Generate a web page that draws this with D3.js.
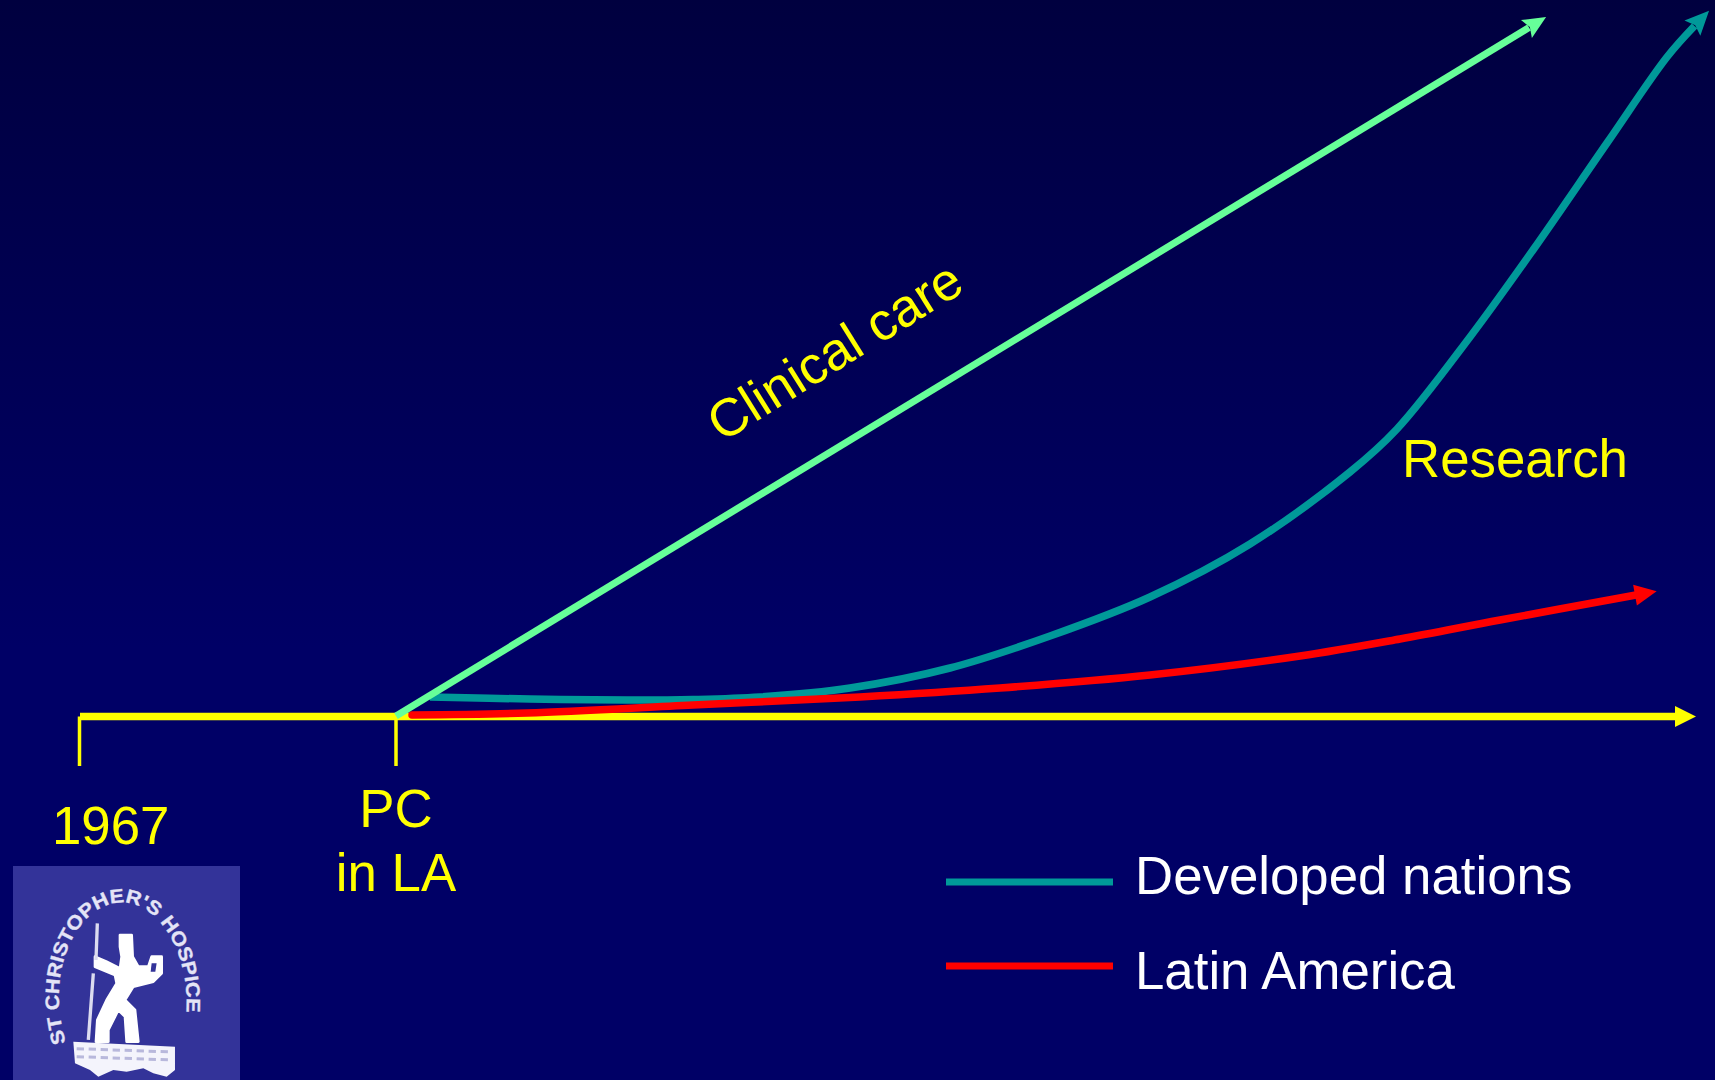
<!DOCTYPE html>
<html><head><meta charset="utf-8">
<script src="https://cdn.jsdelivr.net/npm/d3@7/dist/d3.min.js"></script>
<style>html,body{margin:0;padding:0;background:#000066;overflow:hidden}svg{display:block}text{font-family:"Liberation Sans",Arial,sans-serif}</style>
</head><body><div id="chart"></div>
<script>
// Values are in chart units: horizontal progress along the axis, and level above the axis.
const clinicalX = [39.6, 152.9];
const clinicalY = [0.05, 68.9];
const developedX = [43, 53, 62.7, 69.3, 76, 85, 95, 105, 115, 125, 135, 139.7, 147, 153.3, 160.7, 166.7, 169.45];
const developedY = [1.95, 1.75, 1.65, 1.7, 1.95, 2.85, 4.85, 8.05, 11.95, 17.25, 24.45, 28.75, 37.95, 46.65, 57.35, 65.95, 69.05];
const latinX = [41.2, 52.7, 69.3, 86, 100, 115, 130, 140, 150, 163.6];
const latinY = [0.15, 0.35, 1.15, 1.95, 2.85, 4.15, 6.05, 7.75, 9.65, 12.15];
const axisX = [8, 167.5];
const tickX = [7.95, 39.6];
const legendLabels = ["Developed nations", "Latin America"];
const logoText = "ST CHRISTOPHER'S HOSPICE";

const W = 1715, H = 1080;
const x = d3.scaleLinear().domain([0, 171.5]).range([0, W]);
const y = d3.scaleLinear().domain([0, 10]).range([716.5, 616.5]);
const zip = (a, b) => a.map((v, i) => [v, b[i]]);
const line = d3.line().x(d => x(d[0])).y(d => y(d[1]));

const svg = d3.select("#chart").append("svg").attr("width", W).attr("height", H);
const defs = svg.append("defs");
const grad = defs.append("linearGradient").attr("id", "bg").attr("x1", 0).attr("y1", 0).attr("x2", 0).attr("y2", 1);
grad.append("stop").attr("offset", "0%").attr("stop-color", "#00003f");
grad.append("stop").attr("offset", "60%").attr("stop-color", "#000066");
grad.append("stop").attr("offset", "100%").attr("stop-color", "#000066");
svg.append("rect").attr("width", W).attr("height", H).attr("fill", "url(#bg)");

function marker(id, color, d) {
  defs.append("marker").attr("id", id).attr("markerUnits", "userSpaceOnUse")
    .attr("viewBox", "-12 -14 40 28").attr("markerWidth", 40).attr("markerHeight", 28)
    .attr("refX", 0).attr("refY", 0).attr("orient", "auto")
    .append("path").attr("d", d).attr("fill", color);
}
marker("mGreen", "#66ff99", "M-3,-10.5 L20,0 L-3,10.5 L1,0 Z");
marker("mTeal", "#009999", "M-3,-11 L21,0 L-3,11 L1,0 Z");
marker("mRed", "#ff0000", "M-1,-10.5 L21,0 L-1,10.5 Z");
marker("mYellow", "#ffff00", "M0,-10.5 L21,0 L0,10.5 Z");

// ticks
svg.selectAll(".tick").data(tickX).join("line").attr("class", "tick")
  .attr("x1", d => x(d)).attr("x2", d => x(d)).attr("y1", y(0)).attr("y2", 766)
  .attr("stroke", "#ffff00").attr("stroke-width", 3.5);

// axis
svg.append("path").attr("d", line(zip(axisX, axisX.map(() => 0))))
  .attr("fill", "none").attr("stroke", "#ffff00").attr("stroke-width", 7.3).attr("marker-end", "url(#mYellow)");

// curves
const curve = d3.line().x(d => x(d[0])).y(d => y(d[1])).curve(d3.curveCatmullRom.alpha(0.5));
svg.append("path").attr("d", curve(zip(developedX, developedY))).attr("fill", "none")
  .attr("stroke", "#009999").attr("stroke-width", 7.5).attr("marker-end", "url(#mTeal)");
svg.append("path").attr("d", curve(zip(latinX, latinY))).attr("fill", "none")
  .attr("stroke", "#ff0000").attr("stroke-width", 7.5).attr("stroke-linecap", "round").attr("marker-end", "url(#mRed)");
svg.append("path").attr("d", line(zip(clinicalX, clinicalY))).attr("fill", "none")
  .attr("stroke", "#66ff99").attr("stroke-width", 7).attr("marker-end", "url(#mGreen)");

// labels
const label = (t, px, py, anchor, fill, size) => svg.append("text").text(t).attr("x", px).attr("y", py)
  .attr("text-anchor", anchor).attr("fill", fill).attr("font-size", size);
label("1967", 52, 844, "start", "#ffff00", 52.8);
label("PC", 396, 827, "middle", "#ffff00", 52.8);
label("in LA", 396, 891, "middle", "#ffff00", 52.8);
label("Research", 1402, 477, "start", "#ffff00", 52.8);
label("Clinical care", 722, 443, "start", "#ffff00", 53).attr("transform", "rotate(-32 722 443)");

// legend
const legendColors = ["#009999", "#ff0000"], legendLineY = [882, 966], legendTextY = [894, 989];
legendLabels.forEach((t, i) => {
  svg.append("line").attr("x1", 946).attr("x2", 1113).attr("y1", legendLineY[i]).attr("y2", legendLineY[i])
    .attr("stroke", legendColors[i]).attr("stroke-width", 7);
  label(t, 1135, legendTextY[i], "start", "#ffffff", 52.8);
});

// logo
svg.append("rect").attr("x", 13).attr("y", 866).attr("width", 227).attr("height", 214).attr("fill", "#333399");
const g = svg.append("g").attr("transform", "translate(10,860) scale(0.3333)");
defs.append("path").attr("id", "arc").attr("d", "M168,548 C100,330 205,128 335,128 C465,128 570,330 515,548");
g.append("text").attr("fill", "#e4e4f6").attr("stroke", "#e4e4f6").attr("stroke-width", 1).attr("font-size", 58).attr("font-weight", "bold")
  .append("textPath").attr("href", "#arc").attr("textLength", 935).attr("lengthAdjust", "spacingAndGlyphs").text(logoText);
g.append("path").attr("fill", "#ffffff").attr("stroke", "#ffffff").attr("stroke-width", 8).attr("stroke-linejoin", "round").attr("d",
  "M330,225 L365,225 L368,290 L385,320 L415,320 L425,290 L455,290 L455,340 L430,365 L370,380 L345,420 L375,450 L385,545 L350,545 L345,470 L325,450 L295,510 L295,545 L258,545 L262,480 L290,420 L320,370 L315,345 L255,320 L255,290 L290,305 L330,325 L335,290 L330,260 Z");
g.append("path").attr("fill", "none").attr("stroke", "#dcdcf0").attr("stroke-width", 10)
  .attr("d", "M262,190 L258,300 M250,340 L235,540");
g.append("path").attr("fill", "#f4f4fc").attr("d",
  "M190,545 L495,560 L495,630 L470,650 L430,640 L400,625 L350,635 L310,630 L265,650 L240,630 L195,610 Z");
g.append("path").attr("fill", "none").attr("stroke", "#b8b8dc").attr("stroke-width", 9).attr("stroke-dasharray", "22 14")
  .attr("d", "M200,566 L485,576 M200,590 L485,600");
g.append("path").attr("fill", "#333399").attr("d", "M425,310 L440,310 L436,335 L422,335 Z");
</script></body></html>
